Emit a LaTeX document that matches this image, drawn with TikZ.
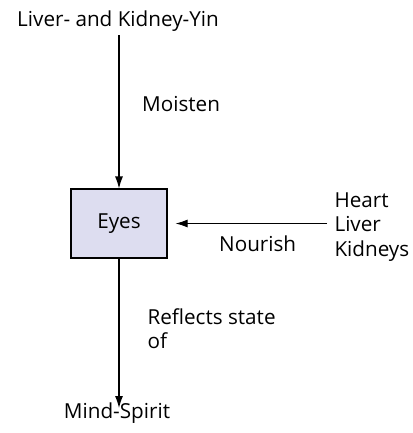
\documentclass[tikz,border=0pt]{standalone}
\usepackage{fontspec}
\setmainfont{Open Sans}
\usetikzlibrary{arrows.meta,positioning}
\definecolor{eyefill}{RGB}{221,221,240}
\begin{document}
\begin{tikzpicture}[>={Latex[length=9pt,width=6pt]}, x=0.75pt, y=-0.75pt, line width=0.8pt,
    lbl/.style={inner sep=0pt, font=\fontsize{15.5}{18.5}\selectfont},
    organbox/.style={draw, fill=eyefill, minimum width=72pt, minimum height=51.75pt, lbl}]
    \useasboundingbox (0,0) rectangle (412,433);
    \node[organbox] (eyes) at (119,223.5) {Eyes};
    \node[lbl, anchor=base] (yin) at (118,26) {Liver- and Kidney-Yin};
    \node[lbl, anchor=base] (mind) at (117,418) {Mind-Spirit};
    \node[lbl, anchor=north west, align=left] (organs) at (334,192) {Heart\\Liver\\Kidneys};
    \coordinate (yinend) at (119,35);
    \coordinate (mindend) at (119,408);
    \coordinate (organend) at (327,223.5);
    \draw[->] (yinend) -- (eyes.north) node[lbl, pos=0.45, anchor=west, xshift=17pt] {Moisten};
    \draw[->] (organend) -- ([xshift=6pt]eyes.east) node[lbl, pos=0.2, anchor=north east, yshift=-9pt] {Nourish};
    \draw[->] (eyes.south) -- (mindend) node[lbl, pos=0.47, anchor=west, xshift=21pt, align=left] {Reflects state\\of};
\end{tikzpicture}
\end{document}
